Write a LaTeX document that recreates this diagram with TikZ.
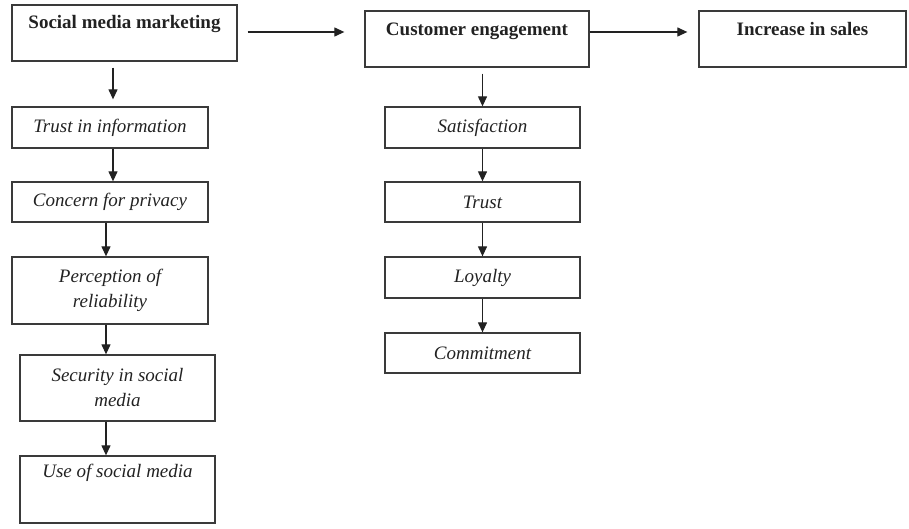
\documentclass[tikz,border=0pt]{standalone}
\usepackage{fontspec}
\setmainfont{Liberation Serif}
\usetikzlibrary{arrows.meta}
\definecolor{ink}{HTML}{222222}
\definecolor{edge}{HTML}{3A3A3A}
\tikzset{
  box/.style={draw=edge, line width=1.3pt, inner sep=0pt, align=center, text=ink,
    font=\fontsize{19}{25}\selectfont\itshape},
  lbl/.style={inner sep=0pt, text=ink, font=\fontsize{19}{25}\selectfont\bfseries},
  arr/.style={draw=ink, line width=1.2pt, -{Triangle[length=10pt,width=9pt]}}
}
\begin{document}
\begin{tikzpicture}[x=1pt,y=1pt]
\useasboundingbox (0,0) rectangle (909,-529);
% top row
\node[box, minimum width=225pt, minimum height=56pt] (smm) at (124.5,-33) {};
\node[box, minimum width=224pt, minimum height=56pt] (ce) at (477,-39) {};
\node[box, minimum width=207pt, minimum height=56pt] (inc) at (802.5,-39) {};
\node[lbl, anchor=base] (smmt) at ([yshift=-24.5pt]smm.north) {Social media marketing};
\node[lbl, anchor=base] (cet) at ([yshift=-25pt]ce.north) {Customer engagement};
\node[lbl, anchor=base] (inct) at ([yshift=-25pt]inc.north) {Increase in sales};
% left column
\node[box, minimum width=196pt, minimum height=41pt] (tii) at (110,-127.5) {Trust in information};
\node[box, minimum width=196pt, minimum height=40pt] (cfp) at (110,-202) {Concern for privacy};
\node[box, minimum width=196pt, minimum height=67pt] (por) at (110,-290.5) {Perception of\\reliability};
\node[box, minimum width=195pt, minimum height=66pt] (sec) at (117.5,-388) {Security in social\\media};
\node[box, minimum width=195pt, minimum height=67pt] (use) at (117.5,-489.5) {};
\node[box, draw=none, anchor=base] (uset) at ([yshift=-22pt]use.north) {Use of social media};
% right column
\node[box, minimum width=195pt, minimum height=41pt] (sat) at (482.5,-127.5) {Satisfaction};
\node[box, minimum width=195pt, minimum height=40pt] (tru) at (482.5,-202) {Trust};
\node[box, minimum width=195pt, minimum height=41pt] (loy) at (482.5,-277.5) {Loyalty};
\node[box, minimum width=195pt, minimum height=40pt] (com) at (482.5,-353) {Commitment};
% horizontal arrows
\draw[arr, shorten <=10pt, shorten >=20pt] ([yshift=1pt]smm.east) -- ([yshift=1pt]smm.east -| ce.west);
\draw[arr, shorten >=11pt] ([yshift=7pt]ce.east) -- ([yshift=7pt]ce.east -| inc.west);
% left column arrows
\draw[arr, shorten <=6pt, shorten >=7pt] ([xshift=3pt]smm.south -| tii.north) -- ([xshift=3pt]tii.north);
\draw[arr] ([xshift=3pt]tii.south) -- ([xshift=3pt]cfp.north);
\draw[arr] ([xshift=-4pt]cfp.south) -- ([xshift=-4pt]por.north);
\draw[arr] ([xshift=-4pt]por.south) -- ([xshift=-4pt]por.south |- sec.north);
\draw[arr] ([xshift=-4pt]por.south |- sec.south) -- ([xshift=-4pt]por.south |- use.north);
% right column arrows
\draw[arr, shorten <=6pt] (ce.south -| sat.north) -- (sat.north);
\draw[arr] (sat.south) -- (tru.north);
\draw[arr] (tru.south) -- (loy.north);
\draw[arr] (loy.south) -- (com.north);
\end{tikzpicture}
\end{document}
